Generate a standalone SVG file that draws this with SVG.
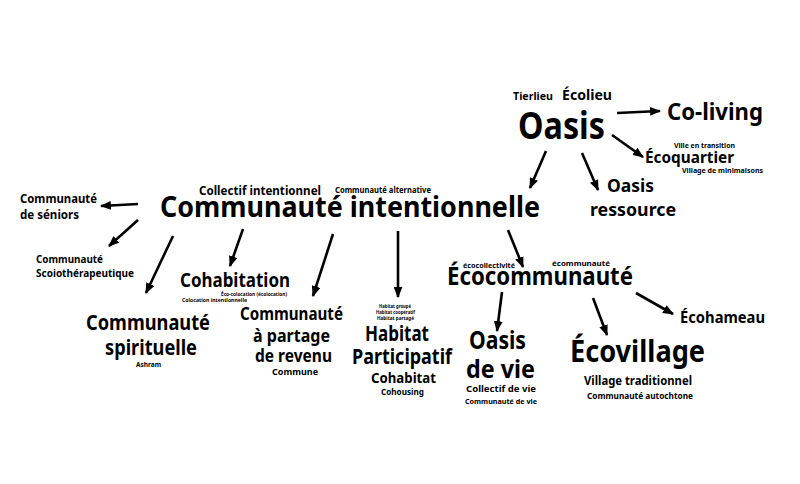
<svg xmlns="http://www.w3.org/2000/svg" width="800" height="484" viewBox="0 0 800 484">
<defs>
<marker id="ah" viewBox="0 0 10 8" refX="9" refY="4" markerWidth="11" markerHeight="9" markerUnits="userSpaceOnUse" orient="auto">
<path d="M0,0 L10,4 L0,8 Z" fill="#000"/>
</marker>
<style>
text{font-family:"Noto Sans","Open Sans","DejaVu Sans",sans-serif;font-weight:bold;fill:#000}
.c line{stroke:#000;stroke-width:2.6;marker-end:url(#ah)}
</style>
</defs>
<rect width="800" height="484" fill="#fff"/>
<g id="oasis">
<text x="513" y="100" font-size="11" textLength="40" lengthAdjust="spacingAndGlyphs">Tierlieu</text>
<text x="562" y="100" font-size="14.5" textLength="50" lengthAdjust="spacingAndGlyphs">Écolieu</text>
<text x="518" y="139" font-size="37" textLength="87" lengthAdjust="spacingAndGlyphs">Oasis</text>
</g>
<g id="coliving"><text x="667" y="120" font-size="24" textLength="96" lengthAdjust="spacingAndGlyphs">Co-living</text></g>
<g id="ecoquartier">
<text x="674" y="148" font-size="7.5" textLength="61" lengthAdjust="spacingAndGlyphs">Ville en transition</text>
<text x="645" y="163" font-size="16.5" textLength="89" lengthAdjust="spacingAndGlyphs">Écoquartier</text>
<text x="682" y="173" font-size="7.5" textLength="81" lengthAdjust="spacingAndGlyphs">Village de minimaisons</text>
</g>
<g id="oasis-ressource">
<text x="607" y="192" font-size="18.5" textLength="47" lengthAdjust="spacingAndGlyphs">Oasis</text>
<text x="590" y="216" font-size="18.5" textLength="86" lengthAdjust="spacingAndGlyphs">ressource</text>
</g>
<g id="communaute-intentionnelle">
<text x="199" y="195" font-size="12.5" textLength="122" lengthAdjust="spacingAndGlyphs">Collectif intentionnel</text>
<text x="335" y="193" font-size="8" textLength="96" lengthAdjust="spacingAndGlyphs">Communauté alternative</text>
<text x="160" y="217" font-size="28.5" textLength="380" lengthAdjust="spacingAndGlyphs">Communauté intentionnelle</text>
</g>
<g id="seniors">
<text x="20" y="203" font-size="12.5" textLength="77" lengthAdjust="spacingAndGlyphs">Communauté</text>
<text x="20" y="219" font-size="12.5" textLength="59" lengthAdjust="spacingAndGlyphs">de séniors</text>
</g>
<g id="scoiotherapeutique">
<text x="36" y="263" font-size="10.5" textLength="67" lengthAdjust="spacingAndGlyphs">Communauté</text>
<text x="36" y="277" font-size="10.5" textLength="98" lengthAdjust="spacingAndGlyphs">Scoiothérapeutique</text>
</g>
<g id="cohabitation">
<text x="180" y="287" font-size="19" textLength="110" lengthAdjust="spacingAndGlyphs">Cohabitation</text>
<text x="221" y="296" font-size="5.5" textLength="66" lengthAdjust="spacingAndGlyphs">Éco-colocation (écolocation)</text>
<text x="182" y="302" font-size="5.5" textLength="65" lengthAdjust="spacingAndGlyphs">Colocation intentionnelle</text>
</g>
<g id="spirituelle">
<text x="86" y="330" font-size="20.5" textLength="124" lengthAdjust="spacingAndGlyphs">Communauté</text>
<text x="105" y="355" font-size="20.5" textLength="92" lengthAdjust="spacingAndGlyphs">spirituelle</text>
<text x="136" y="367" font-size="7" textLength="25" lengthAdjust="spacingAndGlyphs">Ashram</text>
</g>
<g id="partage-revenu">
<text x="240" y="320" font-size="17.5" textLength="103" lengthAdjust="spacingAndGlyphs">Communauté</text>
<text x="253" y="342" font-size="17.5" textLength="77" lengthAdjust="spacingAndGlyphs">à partage</text>
<text x="255" y="362" font-size="17.5" textLength="77" lengthAdjust="spacingAndGlyphs">de revenu</text>
<text x="272" y="375" font-size="9" textLength="46" lengthAdjust="spacingAndGlyphs">Commune</text>
</g>
<g id="habitat-participatif">
<text x="379" y="308" font-size="5" textLength="32" lengthAdjust="spacingAndGlyphs">Habitat groupé</text>
<text x="376" y="314" font-size="5" textLength="39" lengthAdjust="spacingAndGlyphs">Habitat coopératif</text>
<text x="377" y="320" font-size="5" textLength="37" lengthAdjust="spacingAndGlyphs">Habitat partagé</text>
<text x="365" y="341" font-size="21" textLength="64" lengthAdjust="spacingAndGlyphs">Habitat</text>
<text x="352" y="364" font-size="21" textLength="100" lengthAdjust="spacingAndGlyphs">Participatif</text>
<text x="371" y="383" font-size="14.5" textLength="65" lengthAdjust="spacingAndGlyphs">Cohabitat</text>
<text x="381" y="395" font-size="9" textLength="43" lengthAdjust="spacingAndGlyphs">Cohousing</text>
</g>
<g id="ecocommunaute">
<text x="463" y="268" font-size="7.5" textLength="52" lengthAdjust="spacingAndGlyphs">écocollectivité</text>
<text x="552" y="266" font-size="7.5" textLength="58" lengthAdjust="spacingAndGlyphs">écommunauté</text>
<text x="447" y="285" font-size="25" textLength="186" lengthAdjust="spacingAndGlyphs">Écocommunauté</text>
</g>
<g id="ecohameau"><text x="680" y="323" font-size="15.5" textLength="85" lengthAdjust="spacingAndGlyphs">Écohameau</text></g>
<g id="oasis-de-vie">
<text x="469" y="349" font-size="25" textLength="57" lengthAdjust="spacingAndGlyphs">Oasis</text>
<text x="466" y="378" font-size="25" textLength="69" lengthAdjust="spacingAndGlyphs">de vie</text>
<text x="466" y="392" font-size="9.5" textLength="70" lengthAdjust="spacingAndGlyphs">Collectif de vie</text>
<text x="465" y="404" font-size="7.5" textLength="72" lengthAdjust="spacingAndGlyphs">Communauté de vie</text>
</g>
<g id="ecovillage">
<text x="570" y="362" font-size="31" textLength="135" lengthAdjust="spacingAndGlyphs">Écovillage</text>
<text x="584" y="385" font-size="12.5" textLength="108" lengthAdjust="spacingAndGlyphs">Village traditionnel</text>
<text x="587" y="399" font-size="9" textLength="106" lengthAdjust="spacingAndGlyphs">Communauté autochtone</text>
</g>
<g id="connectors" class="c">
<line x1="617" y1="113" x2="660" y2="111"/>
<line x1="612" y1="135" x2="643" y2="157"/>
<line x1="546" y1="151" x2="530" y2="188"/>
<line x1="582" y1="153" x2="598" y2="190"/>
<line x1="138" y1="204" x2="101" y2="206"/>
<line x1="138" y1="220" x2="109" y2="246"/>
<line x1="173" y1="236" x2="146" y2="293"/>
<line x1="243" y1="229" x2="230" y2="266"/>
<line x1="333" y1="234" x2="313" y2="296"/>
<line x1="398" y1="231" x2="398" y2="297"/>
<line x1="508" y1="230" x2="523" y2="267"/>
<line x1="502" y1="292" x2="497" y2="331"/>
<line x1="593" y1="298" x2="607" y2="335"/>
<line x1="636" y1="293" x2="673" y2="314"/>
</g>
</svg>
